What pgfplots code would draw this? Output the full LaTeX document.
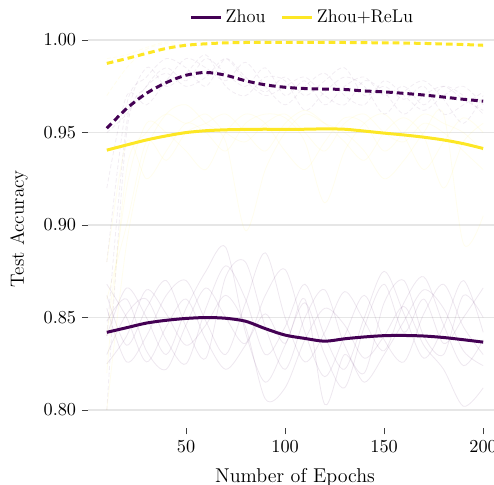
\documentclass[border=0pt]{standalone}
\usepackage{pgfplots}
\usepackage{pgfplotstable}
\pgfplotsset{compat=1.18}

\definecolor{vpurple}{HTML}{440154}
\definecolor{vyellow}{HTML}{FDE725}
\definecolor{gridgray}{HTML}{E6E6E6}

% individual runs, Zhou (solid)
\pgfplotstableread{
x   r1    r2    r3    r4    r5    r6    r7
10  0.862 0.830 0.848 0.855 0.840 0.825 0.868
20  0.835 0.852 0.860 0.826 0.866 0.840 0.850
30  0.855 0.860 0.832 0.840 0.850 0.865 0.826
40  0.870 0.838 0.822 0.862 0.830 0.852 0.845
50  0.845 0.825 0.846 0.870 0.855 0.835 0.860
60  0.828 0.855 0.866 0.848 0.875 0.846 0.838
70  0.872 0.878 0.850 0.830 0.888 0.862 0.822
80  0.880 0.860 0.836 0.858 0.842 0.845 0.835
90  0.845 0.830 0.862 0.885 0.815 0.806 0.852
100 0.822 0.845 0.876 0.850 0.835 0.812 0.836
110 0.850 0.868 0.842 0.826 0.858 0.838 0.860
120 0.865 0.840 0.818 0.842 0.830 0.855 0.803
130 0.835 0.822 0.840 0.864 0.812 0.846 0.830
140 0.820 0.850 0.862 0.848 0.845 0.828 0.815
150 0.858 0.875 0.838 0.832 0.868 0.840 0.830
160 0.870 0.852 0.826 0.858 0.842 0.856 0.848
170 0.840 0.828 0.852 0.872 0.860 0.835 0.865
180 0.830 0.845 0.868 0.846 0.836 0.822 0.855
190 0.862 0.870 0.845 0.824 0.850 0.802 0.832
200 0.850 0.842 0.830 0.838 0.866 0.812 0.824
}\zhouruns

% individual runs, Zhou+ReLu (solid)
\pgfplotstableread{
x   r1    r2    r3    r4    r5
10  0.820 0.860 0.880 0.800 0.840
20  0.930 0.900 0.945 0.890 0.920
30  0.950 0.945 0.925 0.940 0.955
40  0.960 0.935 0.940 0.960 0.950
50  0.955 0.950 0.955 0.965 0.940
60  0.960 0.955 0.950 0.955 0.930
70  0.950 0.960 0.940 0.945 0.950
80  0.945 0.950 0.955 0.897 0.960
90  0.955 0.940 0.960 0.930 0.955
100 0.960 0.955 0.958 0.950 0.940
110 0.950 0.962 0.945 0.960 0.930
120 0.940 0.955 0.912 0.955 0.945
130 0.955 0.945 0.940 0.950 0.958
140 0.960 0.935 0.955 0.940 0.955
150 0.950 0.950 0.960 0.925 0.940
160 0.945 0.958 0.948 0.935 0.950
170 0.955 0.948 0.930 0.950 0.960
180 0.950 0.920 0.945 0.960 0.955
190 0.940 0.945 0.958 0.890 0.950
200 0.930 0.955 0.950 0.905 0.940
}\reluruns

% individual runs, Zhou (dashed)
\pgfplotstableread{
x   r1    r2    r3    r4    r5
10  0.800 0.880 0.920 0.840 0.950
20  0.950 0.965 0.970 0.955 0.960
30  0.975 0.980 0.965 0.985 0.975
40  0.985 0.990 0.978 0.975 0.982
50  0.978 0.985 0.990 0.982 0.975
60  0.990 0.975 0.985 0.992 0.980
70  0.982 0.990 0.978 0.975 0.990
80  0.975 0.980 0.988 0.970 0.978
90  0.985 0.972 0.975 0.980 0.970
100 0.970 0.980 0.965 0.978 0.975
110 0.978 0.970 0.975 0.962 0.980
120 0.965 0.978 0.982 0.972 0.970
130 0.975 0.985 0.970 0.980 0.965
140 0.980 0.970 0.965 0.975 0.978
150 0.970 0.975 0.978 0.960 0.972
160 0.975 0.968 0.970 0.972 0.960
170 0.965 0.975 0.962 0.978 0.970
180 0.975 0.960 0.970 0.968 0.975
190 0.970 0.965 0.975 0.955 0.968
200 0.960 0.972 0.965 0.970 0.962
}\zhoudruns

% individual runs, Zhou+ReLu (dashed)
\pgfplotstableread{
x   r1    r2
10  0.970 0.990
20  0.985 0.992
30  0.995 0.996
40  0.998 0.999
50  0.997 0.998
60  1.000 0.997
70  0.998 1.000
80  0.999 0.999
90  1.000 0.998
100 0.998 1.000
110 0.999 0.998
120 1.000 0.999
130 0.999 0.998
140 0.998 1.000
150 1.000 0.999
160 0.999 0.997
170 0.998 0.999
180 0.999 0.998
190 0.997 0.999
200 0.998 0.996
}\reludruns

% means
\pgfplotstableread{
x   zhou   zhoud  relu   relud
10  0.8420 0.9523 0.9405 0.9874
20  0.8445 0.9630 0.9433 0.9900
30  0.8470 0.9712 0.9460 0.9928
40  0.8485 0.9770 0.9482 0.9955
50  0.8495 0.9810 0.9500 0.9972
60  0.8500 0.9825 0.9510 0.9980
70  0.8496 0.9810 0.9515 0.9985
80  0.8480 0.9780 0.9517 0.9987
90  0.8440 0.9758 0.9518 0.9987
100 0.8405 0.9745 0.9517 0.9987
110 0.8387 0.9738 0.9518 0.9987
120 0.8372 0.9735 0.9520 0.9987
130 0.8385 0.9733 0.9518 0.9987
140 0.8395 0.9725 0.9508 0.9986
150 0.8402 0.9720 0.9497 0.9985
160 0.8403 0.9712 0.9487 0.9984
170 0.8400 0.9703 0.9475 0.9982
180 0.8392 0.9692 0.9460 0.9979
190 0.8380 0.9680 0.9440 0.9976
200 0.8367 0.9670 0.9414 0.9972
}\means

\begin{document}
\begin{tikzpicture}
\useasboundingbox (0pt,0pt) rectangle (296.4pt,291pt);
\clip (0pt,0pt) rectangle (296.4pt,291pt);
\begin{axis}[
  at={(52.8pt,33.9pt)}, anchor=south west,
  scale only axis, width=248.4pt, height=239.7pt,
  xmin=0.5, xmax=209.5, ymin=0.79, ymax=1.006,
  xtick={50,100,150,200},
  ytick={0.80,0.85,0.90,0.95,1.00},
  yticklabel style={/pgf/number format/.cd, fixed, fixed zerofill, precision=2},
  ticklabel style={font=\fontsize{10.5}{12}\selectfont},
  axis line style={draw=none},
  xtick pos=lower, ytick pos=left,
  tick align=outside,
  major tick length=3.6pt,
  tick style={black!75, line width=0.5pt},
  ymajorgrids,
  grid style={gridgray, line width=0.8pt},
  xlabel={Number of Epochs},
  ylabel={Test Accuracy},
  xlabel style={font=\fontsize{12}{14}\selectfont, at={(axis description cs:0.5,0)}, anchor=base, yshift=-32.5pt},
  ylabel style={font=\fontsize{11.5}{13}\selectfont, at={(axis description cs:0,0.5)}, anchor=base, yshift=38.4pt},
  legend style={at={(axis description cs:0.519,1.03)}, anchor=center, draw=none, fill=none,
    font=\fontsize{11}{13}\selectfont,
    legend columns=2, /tikz/every even column/.append style={column sep=7pt}},
  legend image code/.code={\draw[#1] (0pt,0pt) -- (18pt,0pt);},
]
\pgfplotsinvokeforeach{r1,r2,r3,r4,r5,r6,r7}{
  \addplot[forget plot, smooth, vpurple, opacity=0.09, line width=0.5pt] table[x=x,y=#1] {\zhouruns};
}
\pgfplotsinvokeforeach{r1,r2,r3,r4,r5}{
  \addplot[forget plot, smooth, vyellow, opacity=0.08, line width=0.5pt] table[x=x,y=#1] {\reluruns};
  \addplot[forget plot, smooth, vpurple, opacity=0.07, line width=0.5pt, dash pattern=on 2.5pt off 1.5pt] table[x=x,y=#1] {\zhoudruns};
}
\pgfplotsinvokeforeach{r1,r2}{
  \addplot[forget plot, smooth, vyellow, opacity=0.08, line width=0.5pt, dash pattern=on 2.5pt off 1.5pt] table[x=x,y=#1] {\reludruns};
}
\addplot[forget plot, smooth, vpurple, line width=1.8pt, dash pattern=on 4pt off 2.4pt] table[x=x,y=zhoud] {\means};
\addplot[forget plot, smooth, vyellow, line width=1.8pt, dash pattern=on 4pt off 2.4pt] table[x=x,y=relud] {\means};
\addplot[smooth, vpurple, line width=1.8pt] table[x=x,y=zhou] {\means};
\addlegendentry{Zhou}
\addplot[smooth, vyellow, line width=1.8pt] table[x=x,y=relu] {\means};
\addlegendentry{Zhou+ReLu}
\end{axis}
\end{tikzpicture}
\end{document}
